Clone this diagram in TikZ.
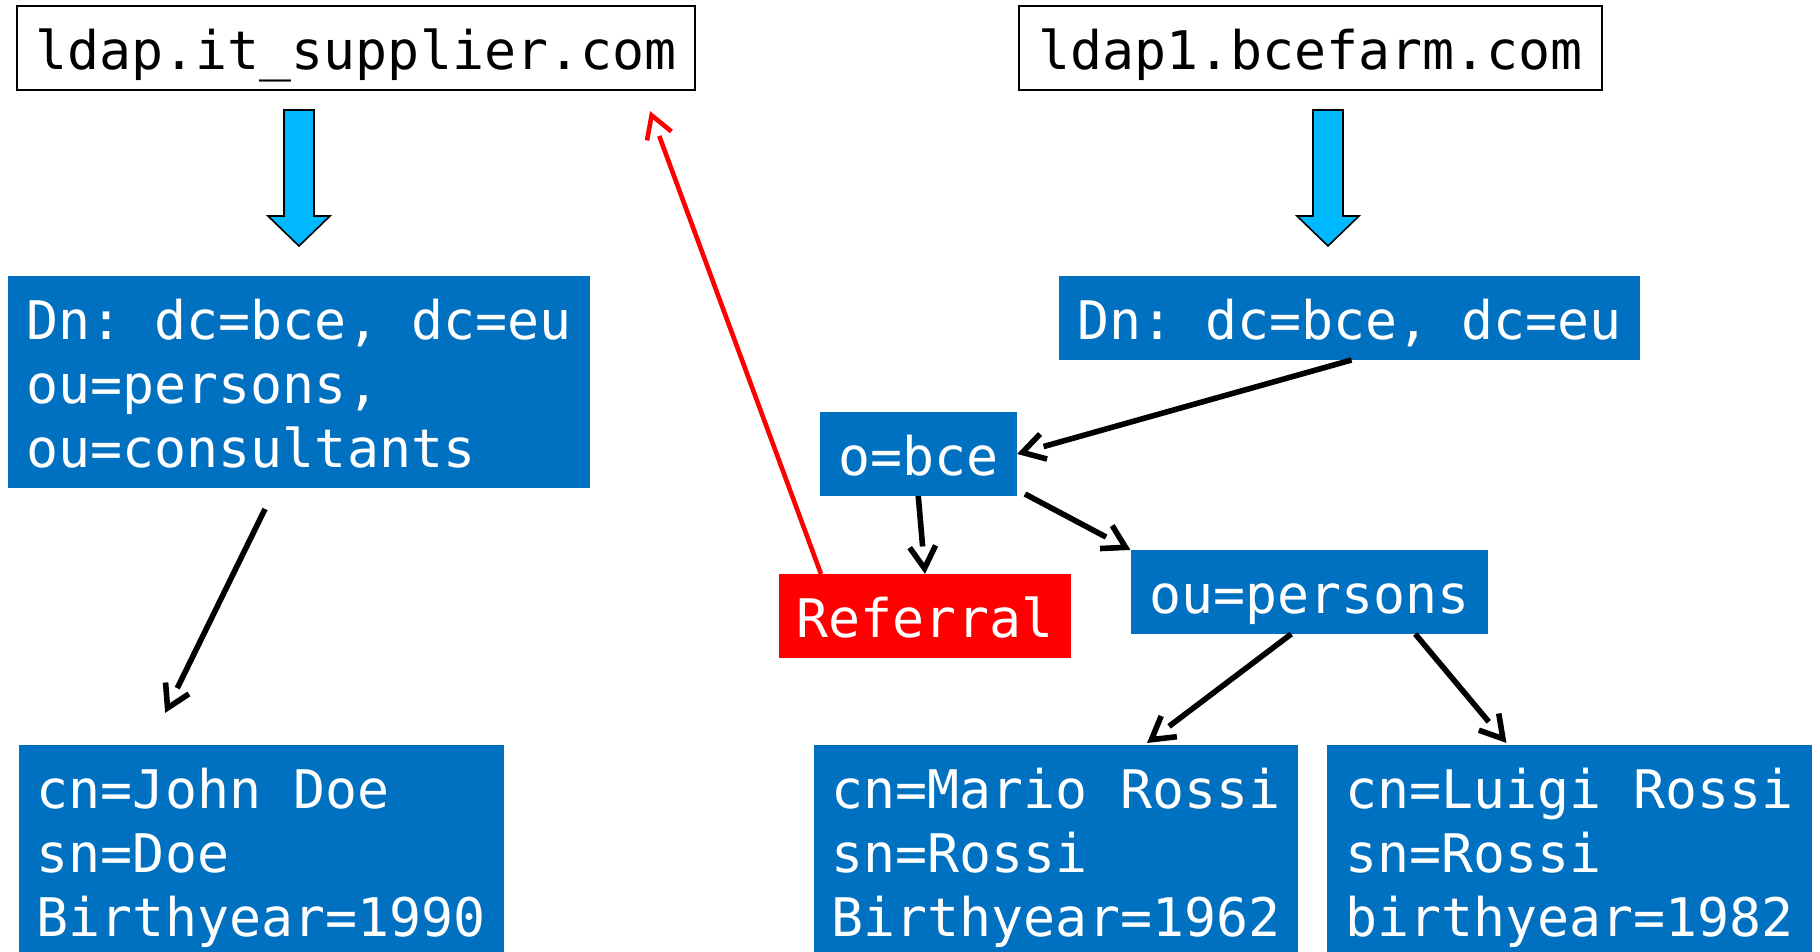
\documentclass[tikz,border=0pt]{standalone}
\usepackage{fontspec}
\newfontfamily\dejamono{DejaVu Sans Mono}
\usetikzlibrary{calc,arrows.meta}
\frenchspacing
\pgfdeclarearrow{
  name=Chev,
  parameters={\the\pgfarrowlength,\the\pgfarrowwidth,\the\pgfarrowlinewidth},
  setup code={
    \pgfarrowssettipend{\pgfarrowlinewidth}
    \pgfarrowssetlineend{-\pgfarrowlength}
    \pgfarrowssetbackend{-\pgfarrowlength}
    \pgfarrowssavethe\pgfarrowlength
    \pgfarrowssavethe\pgfarrowwidth
    \pgfarrowssavethe\pgfarrowlinewidth
  },
  drawing code={
    \pgfsetlinewidth{\pgfarrowlinewidth}
    \pgfsetmiterjoin
    \pgfsetbuttcap
    \pgfpathmoveto{\pgfpoint{-\pgfarrowlength}{.5\pgfarrowwidth}}
    \pgfpathlineto{\pgfpointorigin}
    \pgfpathlineto{\pgfpoint{-\pgfarrowlength}{-.5\pgfarrowwidth}}
    \pgfusepathqstroke
  },
  defaults={length=11pt,width=13pt}
}
\definecolor{boxblue}{HTML}{0070C0}
\definecolor{arrcyan}{HTML}{00B8FF}
\definecolor{refred}{HTML}{FF0000}
\newcommand{\mlines}[1]{\begin{tabular}[t]{@{}l@{}}#1\end{tabular}}
\tikzset{
  basebox/.style={anchor=north west, inner sep=0pt, outer sep=0pt,
    font=\dejamono\frenchspacing\fontsize{26.6pt}{32pt}\selectfont},
  onel/.style={minimum height=42pt, text height=21.5pt, text depth=0pt},
  threel/.style={minimum height=106pt, text height=0pt, text depth=42.5pt},
  hostbox/.style={basebox, onel, draw=black, line width=1pt, fill=white, text=black},
  bluebox/.style={basebox, fill=boxblue, text=white},
  redbox/.style={basebox, onel, fill=refred, text=white},
  blockarrow/.style={fill=arrcyan, draw=black, line width=0.8pt, line join=miter},
  conn/.style={draw=black, line width=2.8pt, -{Chev[length=11pt,width=13pt,line width=2.8pt]}},
  refconn/.style={draw=refred, line width=2.3pt, -{Chev[length=11pt,width=13pt,line width=2.3pt]}}
}
\begin{document}
\begin{tikzpicture}[x=0.5pt,y=-0.5pt]
\useasboundingbox (0,0) rectangle (1820,952);
\begin{scope}
\clip (0,0) rectangle (1820,952);
% host boxes
\node[hostbox, minimum width=339pt] (hostA) at (17,6) {ldap.it\_supplier.com};
\node[hostbox, minimum width=291.5pt] (hostB) at (1019,6) {ldap1.bcefarm.com};
% block arrows
\draw[blockarrow] (284,110) -- (314,110) -- (314,216) -- (330,216) -- (299,246) -- (268,216) -- (284,216) -- cycle;
\draw[blockarrow] (1313,110) -- (1343,110) -- (1343,216) -- (1359,216) -- (1328,246) -- (1297,216) -- (1313,216) -- cycle;
% directory boxes
\node[bluebox, threel, minimum width=291pt] (dnA) at (8,276) {\mlines{Dn: dc=bce, dc=eu\\ou=persons,\\ou=consultants}};
\node[bluebox, onel, minimum width=290.5pt] (dnB) at (1059,276) {Dn: dc=bce, dc=eu};
\node[bluebox, onel, minimum width=98.75pt] (obce) at (819.5,412) {o=bce};
\node[redbox, minimum width=146pt] (ref) at (779,574) {Referral};
\node[bluebox, onel, minimum width=178.75pt] (oup) at (1130.5,550) {ou=persons};
\node[bluebox, threel, minimum width=242.5pt] (john) at (18.6,745) {\mlines{cn=John Doe\\sn=Doe\\Birthyear=1990}};
\node[bluebox, threel, minimum width=242pt] (mario) at (814,745) {\mlines{cn=Mario Rossi\\sn=Rossi\\Birthyear=1962}};
\node[bluebox, threel, minimum width=242.5pt] (luigi) at (1327,745) {\mlines{cn=Luigi Rossi\\sn=Rossi\\birthyear=1982}};
% connectors
\draw[conn] ($(dnA.south)+(-34,21)$) -- ($(john.north)+(-96,-32)$);
\draw[conn] ($(dnB.south)+(2,0)$) -- (obce.east);
\draw[conn] (obce.south) -- (ref.north);
\draw[conn] ($(obce.south east)+(8,-2)$) -- (oup.north west);
\draw[conn] ($(oup.south)+(-18,0)$) -- ($(mario.north)+(91,-2)$);
\draw[conn] ($(oup.south)+(106,0)$) -- ($(luigi.north)+(-63,-2)$);
\draw[refconn] ($(ref.north)+(-104,0)$) -- ($(hostA.south east)+(-45,21)$);
\end{scope}
\end{tikzpicture}
\end{document}
